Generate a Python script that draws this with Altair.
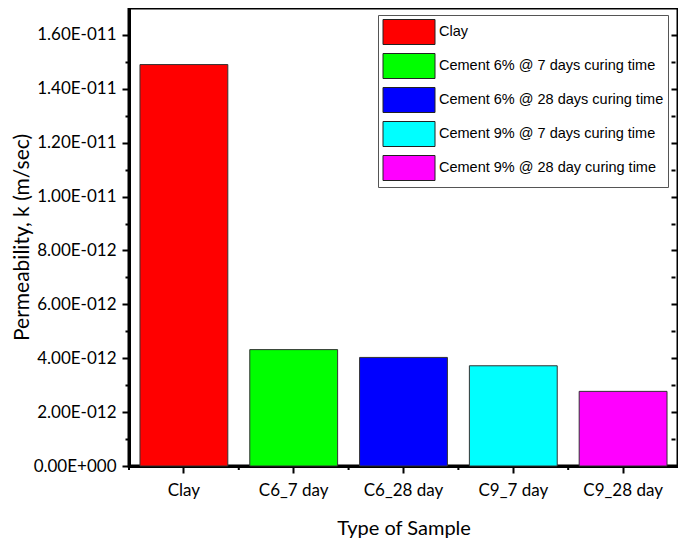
import altair as alt
import pandas as pd

samples = ["Clay", "C6_7 day", "C6_28 day", "C9_7 day", "C9_28 day"]
legend_labels = [
    "Clay",
    "Cement 6% @ 7 days curing time",
    "Cement 6% @ 28 days curing time",
    "Cement 9% @ 7 days curing time",
    "Cement 9% @ 28 day curing time",
]
permeability = [1.49e-11, 4.32e-12, 4.03e-12, 3.72e-12, 2.77e-12]
colors = ["#FF0000", "#00FF00", "#0000FF", "#00FFFF", "#FF00FF"]

df = pd.DataFrame({"sample": samples, "label": legend_labels, "k": permeability})

W, H = 549, 458
TICK_FONT = "Lato"

label_expr = (
    "round(datum.value/1e-12) % 2 == 1 ? '' : "
    "(datum.value == 0 ? '0.00E+000' : "
    "format(datum.value / pow(10, floor(log(datum.value)/LN10 + 1e-9)), '.2f') + 'E' + "
    "(floor(log(datum.value)/LN10 + 1e-9) < 0 ? '-' : '+') + "
    "pad(abs(floor(log(datum.value)/LN10 + 1e-9)) + '', 3, '0', 'left'))"
)
tick_vals = [i * 1e-12 for i in range(0, 17)]

yscale = alt.Scale(domain=[0, 1.7e-11], nice=False, zero=True)
xscale = alt.Scale(paddingInner=0.2, paddingOuter=0.1)

left_axis = alt.Axis(
    values=tick_vals,
    labelExpr=label_expr,
    title="Permeability, k (m/sec)",
    titleFont=TICK_FONT,
    titleFontSize=21,
    titleFontWeight="normal",
    titleColor="black",
    titlePadding=1,
    labelFont=TICK_FONT,
    labelFontSize=17,
    labelColor="black",
    labelPadding=6,
    tickColor="black",
    tickWidth=2,
    tickSize={"condition": {"test": "round(datum.value/1e-12) % 2 == 1", "value": 4}, "value": 7},
    domainColor="black",
    domainWidth=3,
    grid=False,
)

right_axis = alt.Axis(
    orient="right",
    values=tick_vals,
    labels=False,
    title=None,
    domain=False,
    offset=-7,
    tickColor="black",
    tickWidth=2,
    tickSize={"condition": {"test": "round(datum.value/1e-12) % 2 == 1", "value": 4}, "value": 7},
    grid=False,
)

x_axis = alt.Axis(
    title="Type of Sample",
    titleFont=TICK_FONT,
    titleFontSize=20,
    titleFontWeight="normal",
    titleColor="black",
    titlePadding=20,
    labelFont=TICK_FONT,
    labelFontSize=17,
    labelColor="black",
    labelAngle=0,
    labelPadding=9,
    tickColor="black",
    tickWidth=2,
    tickSize=7,
    domainColor="black",
    domainWidth=3,
    grid=False,
)

base = alt.Chart(df)

bars = base.mark_bar(stroke="#333333", strokeWidth=1, opacity=1).encode(
    x=alt.X("sample:N", sort=samples, scale=xscale, axis=x_axis),
    y=alt.Y("k:Q", scale=yscale, axis=left_axis),
    color=alt.Color(
        "label:N",
        sort=legend_labels,
        scale=alt.Scale(domain=legend_labels, range=colors),
        legend=alt.Legend(
            title=None,
            orient="none",
            legendX=249,
            legendY=7,
            symbolType="M-2.08,-1H2.08V1H-2.08Z",
            symbolSize=625,
            symbolOffset=14,
            symbolStrokeColor="#222222",
            symbolStrokeWidth=1,
            symbolOpacity=1,
            labelFont="Liberation Sans",
            labelFontSize=14.5,
            labelColor="black",
            labelOffset=17,
            labelLimit=400,
            padding=4,
            rowPadding=4,
            strokeColor="#555555",
            fillColor="white",
        ),
    ),
)

right = base.mark_bar(opacity=0).encode(
    x=alt.X("sample:N", sort=samples, scale=xscale),
    y=alt.Y("k:Q", scale=yscale, axis=right_axis),
)

minor_x = base.mark_rule(color="black", strokeWidth=2, xOffset=-11).encode(
    x=alt.X("sample:N", sort=samples, scale=xscale, bandPosition=0),
    y=alt.value(H),
    y2=alt.value(H + 4),
)

chart = (
    alt.layer(bars, right, minor_x)
    .resolve_axis(y="independent")
    .properties(
        width=W,
        height=H,
        autosize=alt.AutoSizeParams(type="none"),
        padding={"left": 121, "top": 0, "right": 0, "bottom": 74},
    )
    .configure_view(stroke="black", strokeWidth=3)
)

chart.save("out.html", embed_options={"renderer": "svg", "actions": False})
